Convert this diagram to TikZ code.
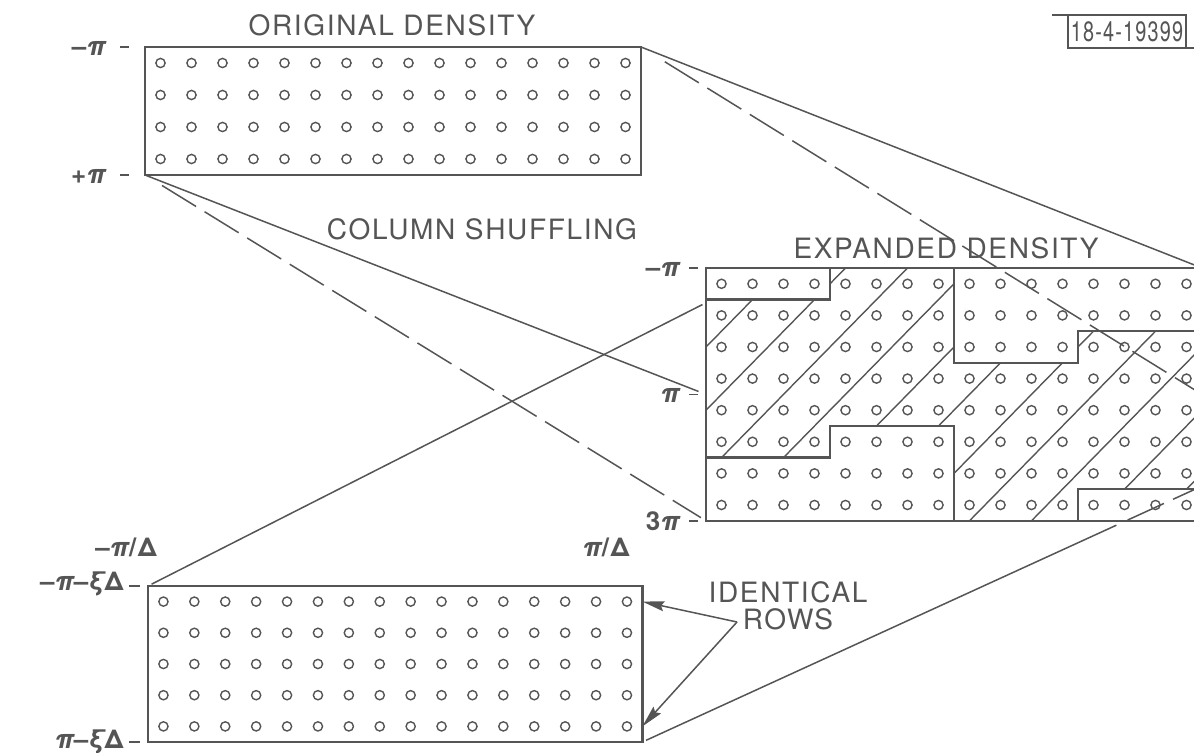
\documentclass[tikz,border=0pt]{standalone}
\usepackage{fontspec}
\setsansfont{TeX Gyre Heros}[LetterSpace=6]
\usetikzlibrary{arrows.meta}

\definecolor{ink}{HTML}{555555}
\newcommand{\gk}[1]{{\itshape #1}}

\tikzset{
	box/.style={draw=ink, line width=1.2pt},
	dot/.style={draw=ink, line width=0.7pt},
	link/.style={draw=ink, line width=0.75pt},
	hidden/.style={link, dash pattern=on 20pt off 5pt},
	hatch/.style={draw=ink, line width=0.7pt},
	tick/.style={draw=ink, line width=0.8pt},
	pointer/.style={link, -{Stealth[length=11pt, width=5pt, inset=1.5pt]}},
	title/.style={text=ink, inner sep=0pt, font=\sffamily\fontsize{14}{13.5}\selectfont},
	val/.style={text=ink, inner sep=0pt, font=\sffamily\bfseries\fontsize{13}{15}\selectfont},
}

\begin{document}
\begin{tikzpicture}[x=0.5pt, y=-0.5pt]
	\useasboundingbox (0,0) rectangle (1194,753);
	
	% --- original density, 16 x 4 ---
	\begin{scope}[shift={(145,47)}, x=15.5pt, y=-16pt]
		\draw[box] (0,0) rectangle (16,4);
		\foreach \i in {0,...,15}
			\foreach \j in {0,...,3}
				\draw[dot] (\i+0.5,\j+0.5) circle[radius=2.3pt];
		\coordinate (orig-nw) at (0,0);
		\coordinate (orig-ne) at (16,0);
		\coordinate (orig-sw) at (0,4);
	\end{scope}
	
	% --- expanded density, 16 x 8 ---
	\begin{scope}[shift={(706,268)}, x=15.5pt, y=-15.8pt]
		\begin{scope}
			% shuffled part gets the hatching
			\clip (0,1) -| (4,0) -| (8,3) -| (12,2) -| (16,7) -| (12,8) -| (8,5) -| (4,6) -- (0,6) -- cycle;
			\foreach \k in {0,...,10}
				\draw[hatch] (2.5+2*\k,0) -- (2.5+2*\k-8,8);
		\end{scope}
		\draw[box] (0,0) rectangle (16,8);
		\draw[box] (0,1) -| (4,0);					% Block oben links
		\draw[box] (8,0) |- (12,3) |- (16,2);		% Block oben rechts
		\draw[box] (0,6) -| (4,5) -| (8,8);			% Block unten links
		\draw[box] (16,7) -| (12,8);				% Block unten rechts
		\foreach \i in {0,...,15}
			\foreach \j in {0,...,7}
				\draw[dot] (\i+0.5,\j+0.5) circle[radius=2.3pt];
		\coordinate (exp-nw) at (0,0);
		\coordinate (exp-ne) at (16,0);
		\coordinate (exp-w-pi) at (0,4);
		\coordinate (exp-e-pi) at (16,4);
		\coordinate (exp-w-3pi) at (0,8);
		\coordinate (exp-w-xi) at (0,1.1);
		\coordinate (exp-e-xi) at (16,6.9);
	\end{scope}
	
	% --- identical rows, 16 x 5 ---
	\begin{scope}[shift={(148,586)}, x=15.45pt, y=-15.6pt]
		\draw[box] (0,0) rectangle (16,5);
		\foreach \i in {0,...,15}
			\foreach \j in {0,...,4}
				\draw[dot] (\i+0.5,\j+0.5) circle[radius=2.3pt];
		\coordinate (low-nw) at (0,0);
		\coordinate (low-sw) at (0,5);
		\coordinate (low-se) at (16,5);
		\coordinate (low-e-top) at (16,0.5);
		\coordinate (low-e-bot) at (16,4.5);
	\end{scope}
	
	% Verbindungen
	\draw[link] (orig-ne) -- (exp-ne);
	\draw[hidden, shorten <=14pt] (orig-ne) -- (exp-e-pi);
	\draw[link, shorten >=4pt] (orig-sw) -- (exp-w-pi);
	\draw[hidden, shorten <=10pt, shorten >=3pt] (orig-sw) -- (exp-w-3pi);
	\draw[link, shorten <=2pt, shorten >=2pt] (low-nw) -- (exp-w-xi);
	\path (low-se) -- coordinate[pos=0.847] (xi-in) coordinate[pos=0.867] (xi-dash) (exp-e-xi);
	\draw[link, shorten <=2pt] (low-se) -- (xi-in);
	\draw[hidden] (xi-dash) -- (exp-e-xi);
	
	% Striche an den Kanten
	\draw[tick] ([xshift=-8pt]orig-nw) -- ++(-9,0);
	\draw[tick] ([xshift=-8pt]orig-sw) -- ++(-9,0);
	\draw[tick] ([xshift=-4pt]exp-nw) -- ++(-9,0);
	\draw[tick] ([xshift=-4pt]exp-w-pi) -- ++(-9,0);
	\draw[tick] ([xshift=-4pt]exp-w-3pi) -- ++(-9,0);
	\draw[tick] ([xshift=-4pt]low-nw) -- ++(-11,0);
	\draw[tick] ([xshift=-4pt]low-sw) -- ++(-11,0);
	
	% Titel
	\node[title] (orig-title) at (392,25) {ORIGINAL DENSITY};
	\node[title] (shuffle-title) at (482,229) {COLUMN SHUFFLING};
	\node[title] (exp-title) at (946,248) {EXPANDED DENSITY};
	\node[title, align=center] (rows-title) at (788,606) {IDENTICAL\\ROWS};
	
	% Werte an den Achsen
	\node[val, anchor=east] (orig-top) at (106,48) {–\gk{π}};
	\node[val, anchor=east] (orig-bot) at (106,176) {+\gk{π}};
	\node[val, anchor=east] (exp-top) at (680,269) {–\gk{π}};
	\node[val, anchor=east] (exp-mid) at (680,395) {\gk{π}};
	\node[val, anchor=east] (exp-bot) at (680,521) {3\gk{π}};
	\node[val] (low-left) at (126,547) {–\gk{π}/Δ};
	\node[val] (low-right) at (606,547) {\gk{π}/Δ};
	\node[val, anchor=east] (low-top) at (124,584) {–\gk{π}–\gk{ξ}Δ};
	\node[val, anchor=east] (low-bot) at (124,742) {\gk{π}–\gk{ξ}Δ};
	
	% Pfeile auf die gleichen Zeilen
	\coordinate (rows-v) at (737,622);
	\draw[pointer] (rows-v) -- (low-e-top);
	\draw[pointer] (rows-v) -- (low-e-bot);
	
	% Stempel
	\node[text=ink, inner sep=0pt, font=\sffamily\fontsize{14}{16}\selectfont] (stamp) at (1127,32) {\scalebox{0.71}[1]{18-4-19399}};
	\draw[link] (1052,15) -| (1186,48);
	\draw[link] (1068,15) |- (1194,48);
\end{tikzpicture}
\end{document}
